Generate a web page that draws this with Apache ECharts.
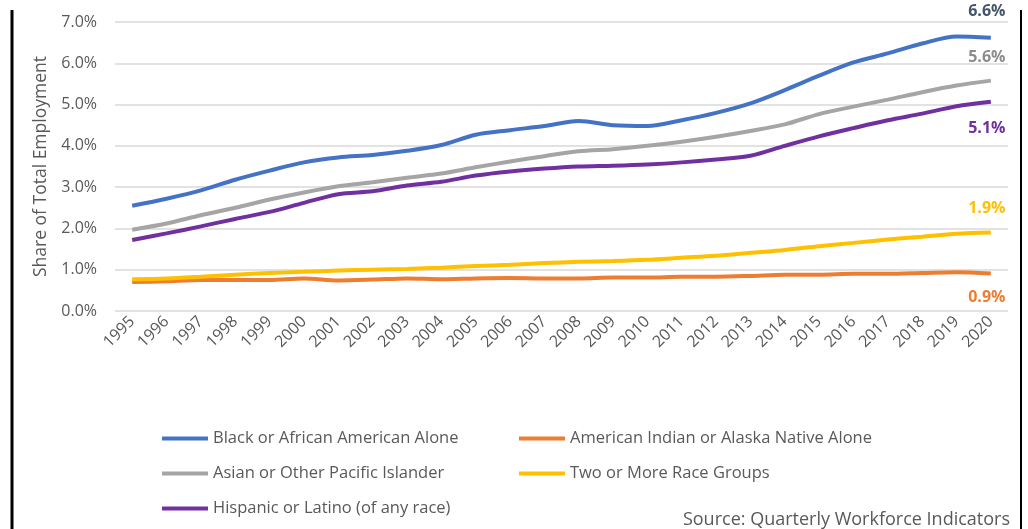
<!DOCTYPE html>
<html>
<head>
<meta charset="utf-8">
<script src="https://cdn.jsdelivr.net/npm/echarts@6/dist/echarts.min.js"></script>
<style>
  html, body { margin: 0; padding: 0; background: #fff; }
  #chart { width: 1028px; height: 529px; }
</style>
</head>
<body>
<div id="chart"></div>
<script>
var years = ['1995','1996','1997','1998','1999','2000','2001','2002','2003','2004','2005','2006','2007',
  '2008','2009','2010','2011','2012','2013','2014','2015','2016','2017','2018','2019','2020'];

var black = [2.55,2.72,2.92,3.18,3.40,3.60,3.72,3.78,3.88,4.02,4.27,4.38,4.48,4.60,4.50,4.48,4.62,4.80,5.03,5.35,5.70,6.02,6.24,6.48,6.65,6.62];
var amIndian = [0.70,0.72,0.75,0.75,0.75,0.79,0.74,0.76,0.79,0.77,0.79,0.80,0.79,0.79,0.81,0.81,0.83,0.83,0.85,0.88,0.88,0.90,0.90,0.92,0.94,0.91];
var asian = [1.97,2.12,2.32,2.50,2.70,2.87,3.02,3.12,3.23,3.33,3.48,3.62,3.75,3.87,3.92,4.00,4.10,4.22,4.36,4.52,4.77,4.95,5.12,5.30,5.46,5.58];
var twoOrMore = [0.77,0.79,0.83,0.88,0.92,0.95,0.98,1.00,1.02,1.05,1.09,1.12,1.16,1.19,1.21,1.24,1.29,1.34,1.41,1.48,1.57,1.65,1.73,1.80,1.87,1.90];
var hispanic = [1.72,1.88,2.05,2.23,2.40,2.62,2.83,2.90,3.04,3.13,3.28,3.38,3.45,3.50,3.52,3.55,3.60,3.67,3.76,4.00,4.23,4.43,4.62,4.78,4.96,5.07];

var endLabels = ['6.6%','0.9%','5.6%','1.9%','5.1%'];

var chart = echarts.init(document.getElementById('chart'));

// dy: vertical shift of the end label relative to the last point
function makeSeries(name, data, color, labelText, dy, labelColor) {
  return {
    name: name, type: 'line', data: data, smooth: 0.3,
    showSymbol: false, symbol: 'none',
    lineStyle: { color: color, width: 4 },
    itemStyle: { color: color },
    endLabel: {
      show: true, formatter: labelText, distance: 0,
      align: 'center', verticalAlign: 'middle', offset: [-4, dy],
      color: labelColor || color, fontSize: 16, fontWeight: 'bold', fontFamily: 'Open Sans'
    },
    z: 3
  };
}

var option = {
  animation: false,
  textStyle: { fontFamily: 'Open Sans' },
  grid: { left: 115, right: 20, top: 22, bottom: 218 },
  xAxis: {
    type: 'category', data: years, boundaryGap: true,
    axisLine: { show: false }, axisTick: { show: false },
    axisLabel: { rotate: 45, color: '#595959', fontSize: 16, margin: 8, interval: 0 }
  },
  yAxis: {
    type: 'value', min: 0, max: 7, interval: 1,
    name: 'Share of Total Employment', nameLocation: 'middle', nameGap: 64,
    nameTextStyle: { color: '#595959', fontSize: 17.5 },
    axisLabel: { color: '#595959', fontSize: 16, margin: 18,
      formatter: function (v) { return v.toFixed(1) + '%'; } },
    splitLine: { lineStyle: { color: '#d9d9d9', width: 1.5 } }
  },
  legend: [
    {
      orient: 'vertical', left: 157, top: 425, itemGap: 18,
      icon: 'rect', itemWidth: 46, itemHeight: 4,
      textStyle: { color: '#595959', fontSize: 16.5, lineHeight: 17 },
      data: ['Black or African American Alone', 'Asian or Other Pacific Islander', 'Hispanic or Latino (of any race)']
    },
    {
      orient: 'vertical', left: 514, top: 425, itemGap: 18,
      icon: 'rect', itemWidth: 46, itemHeight: 4,
      textStyle: { color: '#595959', fontSize: 16.5, lineHeight: 17 },
      data: ['American Indian or Alaska Native Alone', 'Two or More Race Groups']
    }
  ],
  graphic: [
    { type: 'line', shape: { x1: 12, y1: 10, x2: 12, y2: 529 }, style: { stroke: '#000', lineWidth: 3 } },
    { type: 'line', shape: { x1: 1021, y1: 10, x2: 1021, y2: 529 }, style: { stroke: '#000', lineWidth: 2 } },
    { type: 'text', right: 18, bottom: 0,
      style: { text: 'Source: Quarterly Workforce Indicators', fill: '#595959', fontSize: 18, fontFamily: 'Open Sans' } }
  ],
  series: [
    makeSeries('Black or African American Alone', black, '#4472C4', endLabels[0], -26, '#44546A'),
    makeSeries('American Indian or Alaska Native Alone', amIndian, '#ED7D31', endLabels[1], 24),
    makeSeries('Asian or Other Pacific Islander', asian, '#A5A5A5', endLabels[2], -23, '#8c8c8c'),
    makeSeries('Two or More Race Groups', twoOrMore, '#FFC000', endLabels[3], -24),
    makeSeries('Hispanic or Latino (of any race)', hispanic, '#7030A0', endLabels[4], 27)
  ]
};

chart.setOption(option);
</script>
</body>
</html>
